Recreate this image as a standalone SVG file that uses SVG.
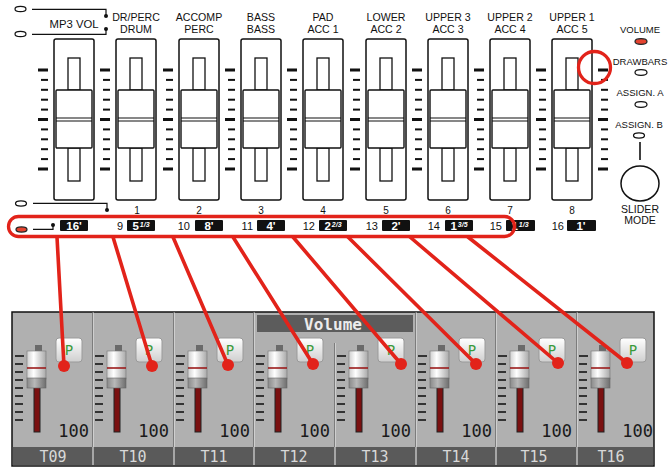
<svg xmlns="http://www.w3.org/2000/svg" width="670" height="470" viewBox="0 0 670 470">
<style>
.lbl{font-family:"Liberation Sans",Arial,sans-serif;font-size:10.6px;fill:#111;text-anchor:middle}
.num{font-family:"Liberation Sans",Arial,sans-serif;font-size:11px;fill:#111}
.top{font-family:"Liberation Sans",Arial,sans-serif;font-size:10px;fill:#111;text-anchor:middle}
.foot{font-family:"Liberation Sans",Arial,sans-serif;font-size:11.5px;font-weight:bold;fill:#fff;text-anchor:middle}
.frac{font-size:7px;font-style:italic}
.box{fill:#111}
.housing{fill:#fff;stroke:#111;stroke-width:1.5}
.slot{fill:#fff;stroke:#111;stroke-width:1.3}
.knob{fill:#fff;stroke:#111;stroke-width:1.4}
.thin{stroke:#111;stroke-width:1.2;fill:none}
.led{fill:#fff;stroke:#111;stroke-width:1.2}
.ledr{fill:#e5432f;stroke:#222;stroke-width:1.2}
.dot{fill:#111}
.side{font-family:"Liberation Sans",Arial,sans-serif;font-size:9.5px;fill:#111;text-anchor:middle}
.red{stroke:#e2231a;fill:none}
.conn{stroke:#e2231a;stroke-width:3.6;stroke-linecap:round}
.rdot{fill:#e2231a}
.val{font-family:"DejaVu Sans Mono",monospace;font-size:17px;fill:#1a1a1a;text-anchor:end}
.tl{font-family:"DejaVu Sans Mono",monospace;font-size:15px;fill:#d8d8d8;text-anchor:middle}
.dtick{fill:#333}
</style>
<defs>
<g id="ticks">
<rect x="-16" y="68.5" width="10" height="3" fill="#111"/>
<rect x="-13" y="78.9" width="7" height="2" fill="#111"/>
<rect x="-13" y="88.8" width="7" height="2" fill="#111"/>
<rect x="-13" y="98.7" width="7" height="2" fill="#111"/>
<rect x="-13" y="108.6" width="7" height="2" fill="#111"/>
<rect x="-16" y="118" width="10" height="3" fill="#111"/>
<rect x="-13" y="128.4" width="7" height="2" fill="#111"/>
<rect x="-13" y="138.3" width="7" height="2" fill="#111"/>
<rect x="-13" y="148.2" width="7" height="2" fill="#111"/>
<rect x="-13" y="158.1" width="7" height="2" fill="#111"/>
<rect x="-16" y="167.5" width="10" height="3" fill="#111"/>
</g>
<g id="fader">
<use href="#ticks"/>
<rect class="housing" x="0" y="39" width="40" height="161" rx="2"/>
<rect class="slot" x="14" y="58" width="12" height="32"/>
<rect class="slot" x="14" y="148" width="12" height="33"/>
<rect class="knob" x="2" y="90" width="36" height="58" rx="1"/>
<line class="thin" x1="2" x2="38" y1="118" y2="118"/>
<line class="thin" x1="2" x2="38" y1="121" y2="121"/>
</g>
<linearGradient id="capG" x1="0" x2="1" y1="0" y2="0">
<stop offset="0" stop-color="#cfcfcf"/><stop offset="0.35" stop-color="#ffffff"/><stop offset="1" stop-color="#a9a9a9"/>
</linearGradient>
<linearGradient id="capL" x1="0" x2="1" y1="0" y2="0">
<stop offset="0" stop-color="#8a8a8a"/><stop offset="0.4" stop-color="#b8b8b8"/><stop offset="1" stop-color="#6e6e6e"/>
</linearGradient>
<linearGradient id="pG" x1="0" x2="0" y1="0" y2="1">
<stop offset="0" stop-color="#ffffff"/><stop offset="1" stop-color="#cfcfcf"/>
</linearGradient>
<g id="ch">
<rect class="dtick" x="3" y="355" width="9" height="2"/>
<rect class="dtick" x="3" y="363" width="8" height="2"/>
<rect class="dtick" x="3" y="371" width="8" height="2"/>
<rect class="dtick" x="3" y="379" width="8" height="2"/>
<rect class="dtick" x="3" y="387" width="8" height="2"/>
<rect class="dtick" x="3" y="395" width="8" height="2"/>
<rect class="dtick" x="3" y="403" width="8" height="2"/>
<rect class="dtick" x="3" y="411" width="8" height="2"/>
<rect class="dtick" x="3" y="419" width="8" height="2"/>
<rect x="22" y="386" width="6" height="46" fill="#7a1010" stroke="#222" stroke-width="1"/>
<rect x="23" y="345" width="7" height="7" fill="#6a6a6a"/>
<rect x="15" y="351" width="19" height="28" fill="url(#capG)" stroke="#777" stroke-width="0.6"/>
<rect x="15" y="378" width="19" height="10" fill="url(#capL)" stroke="#666" stroke-width="0.6"/>
<line x1="15" x2="34" y1="368" y2="368" stroke="#9b1b1b" stroke-width="1.6"/>
<rect x="44" y="338" width="26" height="24" rx="3" fill="url(#pG)" stroke="#9a9a9a" stroke-width="1"/>
<text x="57" y="355" font-family="DejaVu Sans Mono,monospace" font-size="14" fill="#3a9a3a" text-anchor="middle">P</text>
<text class="val" x="77" y="437">100</text>
</g>
</defs>

<rect width="670" height="470" fill="#fff"/>

<g id="top-leds">
<ellipse class="led" cx="20.5" cy="9" rx="5.5" ry="2.6"/>
<ellipse class="led" cx="20.5" cy="34" rx="5.5" ry="2.6"/>
<path class="thin" d="M32 9.3 H106 V16"/>
<circle class="dot" cx="106" cy="16" r="2"/>
<path class="thin" d="M32 34.3 H106 V29"/>
<circle class="dot" cx="106" cy="29" r="2"/>
</g>

<g id="slider-mp3" transform="translate(54,0)"><use href="#fader"/><text x="20" y="28" class="lbl" style="font-size:11.3px">MP3 VOL</text></g>
<g id="slider-1" transform="translate(116,0)"><use href="#fader"/><text x="20" y="21" class="lbl">DR/PERC</text><text x="20" y="33" class="lbl">DRUM</text><text x="21" y="214" class="top">1</text></g>
<g id="slider-2" transform="translate(179,0)"><use href="#fader"/><text x="20" y="21" class="lbl">ACCOMP</text><text x="20" y="33" class="lbl">PERC</text><text x="20" y="214" class="top">2</text></g>
<g id="slider-3" transform="translate(241,0)"><use href="#fader"/><text x="20" y="21" class="lbl">BASS</text><text x="20" y="33" class="lbl">BASS</text><text x="20" y="214" class="top">3</text></g>
<g id="slider-4" transform="translate(303,0)"><use href="#fader"/><text x="20" y="21" class="lbl">PAD</text><text x="20" y="33" class="lbl">ACC 1</text><text x="20" y="214" class="top">4</text></g>
<g id="slider-5" transform="translate(366,0)"><use href="#fader"/><text x="20" y="21" class="lbl">LOWER</text><text x="20" y="33" class="lbl">ACC 2</text><text x="20" y="214" class="top">5</text></g>
<g id="slider-6" transform="translate(428,0)"><use href="#fader"/><text x="20" y="21" class="lbl">UPPER 3</text><text x="20" y="33" class="lbl">ACC 3</text><text x="20" y="214" class="top">6</text></g>
<g id="slider-7" transform="translate(490,0)"><use href="#fader"/><text x="20" y="21" class="lbl">UPPER 2</text><text x="20" y="33" class="lbl">ACC 4</text><text x="20" y="214" class="top">7</text></g>
<g id="slider-8" transform="translate(552,0)"><use href="#fader"/><text x="20" y="21" class="lbl">UPPER 1</text><text x="20" y="33" class="lbl">ACC 5</text><text x="20" y="214" class="top">8</text></g>
<g id="ticks-right" transform="translate(614,0)"><use href="#ticks"/></g>

<g id="mode-panel">
<text class="side" x="640" y="33">VOLUME</text>
<ellipse class="ledr" cx="641" cy="41.5" rx="6" ry="2.8"/>
<text class="side" x="640" y="65">DRAWBARS</text>
<ellipse class="led" cx="641" cy="72.5" rx="6" ry="2.8"/>
<text class="side" x="640" y="96">ASSIGN. A</text>
<ellipse class="led" cx="641" cy="104.5" rx="6" ry="2.8"/>
<text class="side" x="639" y="128">ASSIGN. B</text>
<ellipse class="led" cx="639" cy="135.5" rx="5.5" ry="2.6"/>
<line class="thin" x1="640" y1="142" x2="640" y2="160" style="stroke-width:1.6"/>
<ellipse cx="640" cy="183.5" rx="19" ry="17.5" fill="#fff" stroke="#111" stroke-width="1.5"/>
<text class="side" x="640" y="213" style="font-size:10.5px">SLIDER</text>
<text class="side" x="640" y="224" style="font-size:10.5px">MODE</text>
</g>

<g id="bottom-leds">
<ellipse class="led" cx="21" cy="203.5" rx="5.5" ry="2.6"/>
<path class="thin" d="M33 203.3 H107 V210"/>
<circle class="dot" cx="107" cy="210" r="2"/>
<ellipse class="ledr" cx="21.5" cy="229.5" rx="5.5" ry="2.6"/>
<path class="thin" d="M33 229.3 H53 V225"/>
<circle class="dot" cx="53" cy="225" r="2"/>
</g>

<g id="footages">
<rect class="box" x="60" y="220" width="28" height="11" rx="1"/><text class="foot" x="74" y="230">16'</text>
<text class="num" x="123" y="230" text-anchor="end">9</text>
<rect class="box" x="127" y="220" width="28" height="11" rx="1"/><text class="foot" x="141" y="230">5<tspan class="frac" dx="1" dy="-3">1/3</tspan></text>
<text class="num" x="190" y="230" text-anchor="end">10</text>
<rect class="box" x="195" y="220" width="28" height="11" rx="1"/><text class="foot" x="209" y="230">8'</text>
<text class="num" x="253" y="230" text-anchor="end">11</text>
<rect class="box" x="257" y="220" width="28" height="11" rx="1"/><text class="foot" x="271" y="230">4'</text>
<text class="num" x="315" y="230" text-anchor="end">12</text>
<rect class="box" x="319" y="220" width="28" height="11" rx="1"/><text class="foot" x="333" y="230">2<tspan class="frac" dx="1" dy="-3">2/3</tspan></text>
<text class="num" x="378" y="230" text-anchor="end">13</text>
<rect class="box" x="382" y="220" width="28" height="11" rx="1"/><text class="foot" x="396" y="230">2'</text>
<text class="num" x="440" y="230" text-anchor="end">14</text>
<rect class="box" x="445" y="220" width="28" height="11" rx="1"/><text class="foot" x="459" y="230">1<tspan class="frac" dx="1" dy="-3">3/5</tspan></text>
<text class="num" x="502" y="230" text-anchor="end">15</text>
<rect class="box" x="506" y="220" width="29" height="11" rx="1"/><text class="foot" x="520" y="230">1<tspan class="frac" dx="1" dy="-3">1/3</tspan></text>
<text class="num" x="564" y="230" text-anchor="end">16</text>
<rect class="box" x="567" y="220" width="29" height="11" rx="1"/><text class="foot" x="581" y="230">1'</text>
</g>

<g id="highlights">
<rect class="red" x="8.5" y="216.5" width="506" height="20" rx="10" stroke-width="3.3"/>
<circle class="red" cx="594.5" cy="67.5" r="16" stroke-width="3.3"/>
</g>

<g id="display">
<rect x="12" y="312" width="642" height="154" fill="#b0b0b0" stroke="#111" stroke-width="1.5"/>
<rect x="257" y="315" width="156" height="17" fill="#5c5c5c"/>
<text x="333" y="330" font-family="DejaVu Sans Mono,monospace" font-size="16" font-weight="bold" fill="#ececec" text-anchor="middle">Volume</text>
<g stroke-width="1">
<line x1="92.5" y1="312.5" x2="92.5" y2="447" stroke="#7c7c7c"/><line x1="93.5" y1="312.5" x2="93.5" y2="447" stroke="#cfcfcf"/>
<line x1="173.5" y1="312.5" x2="173.5" y2="447" stroke="#7c7c7c"/><line x1="174.5" y1="312.5" x2="174.5" y2="447" stroke="#cfcfcf"/>
<line x1="253.5" y1="312.5" x2="253.5" y2="447" stroke="#7c7c7c"/><line x1="254.5" y1="312.5" x2="254.5" y2="447" stroke="#cfcfcf"/>
<line x1="334.5" y1="343" x2="334.5" y2="447" stroke="#7c7c7c"/><line x1="335.5" y1="343" x2="335.5" y2="447" stroke="#cfcfcf"/>
<line x1="415.5" y1="312.5" x2="415.5" y2="447" stroke="#7c7c7c"/><line x1="416.5" y1="312.5" x2="416.5" y2="447" stroke="#cfcfcf"/>
<line x1="495.5" y1="312.5" x2="495.5" y2="447" stroke="#7c7c7c"/><line x1="496.5" y1="312.5" x2="496.5" y2="447" stroke="#cfcfcf"/>
<line x1="576.5" y1="312.5" x2="576.5" y2="447" stroke="#7c7c7c"/><line x1="577.5" y1="312.5" x2="577.5" y2="447" stroke="#cfcfcf"/>
</g>
<rect x="12.75" y="447" width="640.5" height="18.25" fill="#5a5a5a"/>
<g stroke="#a6a6a6" stroke-width="2">
<line x1="93" y1="447" x2="93" y2="465"/><line x1="174" y1="447" x2="174" y2="465"/><line x1="254" y1="447" x2="254" y2="465"/><line x1="335" y1="447" x2="335" y2="465"/>
<line x1="416" y1="447" x2="416" y2="465"/><line x1="496" y1="447" x2="496" y2="465"/><line x1="577" y1="447" x2="577" y2="465"/>
</g>
</g>
<g id="ch-T09"><use href="#ch" transform="translate(12,0)"/><text class="tl" x="53" y="462">T09</text></g>
<g id="ch-T10"><use href="#ch" transform="translate(92,0)"/><text class="tl" x="133" y="462">T10</text></g>
<g id="ch-T11"><use href="#ch" transform="translate(173,0)"/><text class="tl" x="214" y="462">T11</text></g>
<g id="ch-T12"><use href="#ch" transform="translate(253,0)"/><text class="tl" x="294" y="462">T12</text></g>
<g id="ch-T13"><use href="#ch" transform="translate(334,0)"/><text class="tl" x="375" y="462">T13</text></g>
<g id="ch-T14"><use href="#ch" transform="translate(415,0)"/><text class="tl" x="456" y="462">T14</text></g>
<g id="ch-T15"><use href="#ch" transform="translate(495,0)"/><text class="tl" x="534" y="462">T15</text></g>
<g id="ch-T16"><use href="#ch" transform="translate(576,0)"/><text class="tl" x="611" y="462">T16</text></g>

<g id="connectors">
<line class="conn" x1="57" y1="237" x2="64" y2="366"/>
<line class="conn" x1="113" y1="237" x2="152" y2="366"/>
<line class="conn" x1="173" y1="237" x2="228" y2="365"/>
<line class="conn" x1="233" y1="237" x2="313" y2="364"/>
<line class="conn" x1="293" y1="237" x2="401" y2="364"/>
<line class="conn" x1="348" y1="237" x2="476" y2="364"/>
<line class="conn" x1="410" y1="237" x2="558" y2="363"/>
<line class="conn" x1="468" y1="237" x2="627" y2="363"/>
<circle class="rdot" cx="64" cy="366" r="6"/>
<circle class="rdot" cx="152" cy="366" r="6"/>
<circle class="rdot" cx="228" cy="365" r="6"/>
<circle class="rdot" cx="313" cy="364" r="6"/>
<circle class="rdot" cx="401" cy="364" r="6"/>
<circle class="rdot" cx="476" cy="364" r="6"/>
<circle class="rdot" cx="558" cy="363" r="6"/>
<circle class="rdot" cx="627" cy="363" r="6"/>
</g>
</svg>
